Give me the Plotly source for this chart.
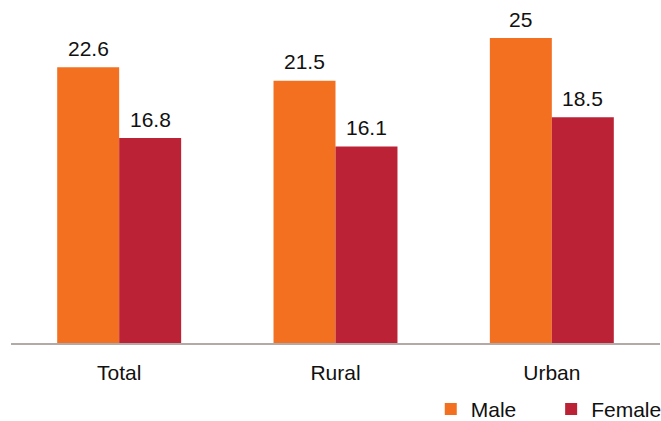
import plotly.graph_objects as go

categories = ["Total", "Rural", "Urban"]
male = [22.6, 21.5, 25]
female = [16.8, 16.1, 18.5]

font = "Liberation Sans, Arial, Helvetica, sans-serif"
W, H = 661, 421
ML, MR, MT, MB = 11, 1, 10, 78
BARGAP = 0.427

fig = go.Figure()
fig.add_trace(go.Bar(x=categories, y=male, name="Male", marker_color="#F37021", legend="legend"))
fig.add_trace(go.Bar(x=categories, y=female, name="Female", marker_color="#BC2236", legend="legend2"))
fig.update_traces(marker_line_width=0)

# value labels sit a bit higher than plotly's outside text, so use annotations
slot = (W - ML - MR) / len(categories)
bar_w = slot * (1 - BARGAP) / 2
for shift, vals in [(-bar_w / 2, male), (bar_w / 2, female)]:
    for cat, v in zip(categories, vals):
        fig.add_annotation(x=cat, y=v, text=str(v), showarrow=False,
                           xshift=shift, yshift=19, yanchor="middle",
                           font=dict(size=21, color="#111111"))

legend_style = dict(orientation="h", yanchor="middle", y=-0.199, xanchor="right",
                    font=dict(size=21), itemwidth=30)

fig.update_layout(
    width=W, height=H,
    margin=dict(l=ML, r=MR, t=MT, b=MB, autoexpand=False),
    plot_bgcolor="white", paper_bgcolor="white",
    barmode="group", bargap=BARGAP, bargroupgap=0,
    font=dict(family=font, size=21, color="#111111"),
    showlegend=True,
    legend=dict(legend_style, x=0.787),
    legend2=dict(legend_style, x=1.011),
)
fig.update_xaxes(showline=True, linecolor="#B3AAA7", linewidth=1.5, ticks="",
                 tickfont=dict(size=21), ticklabelstandoff=10)
fig.update_yaxes(range=[0, 27.3], visible=False, showgrid=False)

# drop the default page margin so the figure sits at the window's corner
fig.write_html("out.html", config={"displayModeBar": False},
               post_script="document.body.style.margin = '0';")
